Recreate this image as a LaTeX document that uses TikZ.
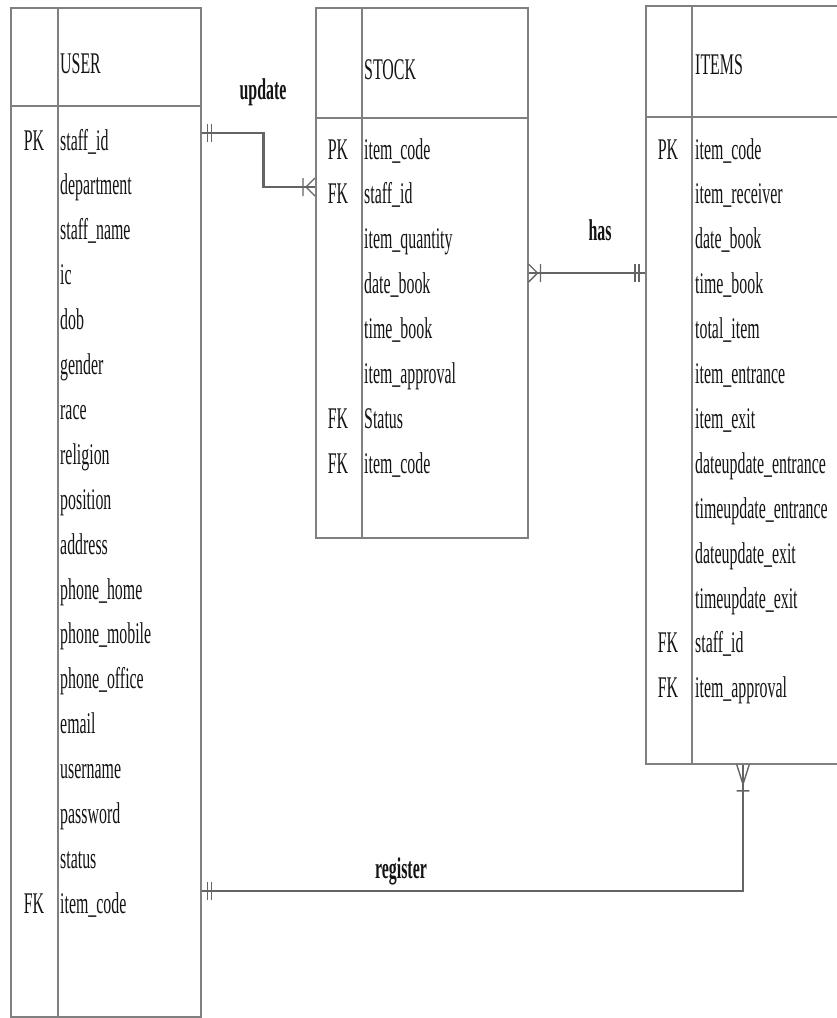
\documentclass[tikz,border=0pt]{standalone}
\usepackage{fontspec}
\setmainfont{Liberation Serif}[FakeStretch=0.53]
\usetikzlibrary{positioning,calc}

\definecolor{boxgray}{RGB}{128,128,128}
\definecolor{linkgray}{RGB}{100,100,100}
\definecolor{inkgray}{RGB}{20,20,20}

\begin{document}
\begin{tikzpicture}[
    x=1pt, y=-1pt,
    table/.style={
        draw=boxgray,
        line width=1.5pt,
        anchor=north west,
        inner sep=0pt
    },
    sep line/.style={draw=boxgray, line width=1.5pt},
    title/.style={
        font=\fontsize{30}{32}\selectfont,
        text=inkgray,
        anchor=base west,
        inner sep=0pt
    },
    attr/.style={
        font=\fontsize{30}{32}\selectfont,
        text=inkgray,
        text width=150pt,
        align=left,
        inner sep=0pt,
        minimum height=44.5pt,
        text height=20pt,
        text depth=6pt
    },
    key/.style={
        font=\fontsize{30}{32}\selectfont,
        text=inkgray,
        inner sep=0pt,
        text height=20pt,
        text depth=6pt
    },
    rel/.style={draw=linkgray, line width=2.8pt},
    tick/.style={draw=linkgray, line width=1.4pt},
    rel label/.style={
        font=\bfseries\fontsize{30}{32}\selectfont,
        text=inkgray,
        anchor=base,
        inner sep=0pt
    },
    one only/.pic={\draw[tick] (6,-9) -- (6,9) (10,-9) -- (10,9);},
    one many/.pic={\draw[tick] (0,-9) -- (9,0) -- (0,9) (12,-9) -- (12,9);}
]
\useasboundingbox (0,0) rectangle (836,1018);

% Tables
\node[table, minimum width=190pt, minimum height=1009pt] (user)  at (10,7)  {};
\node[table, minimum width=212pt, minimum height=530pt]  (stock) at (315,7) {};
\node[table, minimum width=200pt, minimum height=758pt]  (items) at (645,5) {};

% Header and key column lines
\draw[sep line] ($(user.north west)+(0,99)$)   -- ($(user.north east)+(0,99)$);
\draw[sep line] ($(user.north west)+(48,0)$)   -- ($(user.south west)+(48,0)$);
\draw[sep line] ($(stock.north west)+(0,111)$) -- ($(stock.north east)+(0,111)$);
\draw[sep line] ($(stock.north west)+(47,0)$)  -- ($(stock.south west)+(47,0)$);
\draw[sep line] ($(items.north west)+(0,112)$) -- ($(items.north east)+(0,112)$);
\draw[sep line] ($(items.north west)+(47,0)$)  -- ($(items.south west)+(47,0)$);

% Titles
\node[title] (usertitle)  at (60,73)  {USER};
\node[title] (stocktitle) at (364,79) {STOCK};
\node[title] (itemstitle) at (695,74) {ITEMS};

% USER attributes
\node[attr, anchor=west] (u1) at (60,143) {staff\_id};
\node[attr] (u2)  [below=0pt of u1]  {department};
\node[attr] (u3)  [below=0pt of u2]  {staff\_name};
\node[attr] (u4)  [below=0pt of u3]  {ic};
\node[attr] (u5)  [below=0pt of u4]  {dob};
\node[attr] (u6)  [below=0pt of u5]  {gender};
\node[attr] (u7)  [below=0pt of u6]  {race};
\node[attr] (u8)  [below=0pt of u7]  {religion};
\node[attr] (u9)  [below=0pt of u8]  {position};
\node[attr] (u10) [below=0pt of u9]  {address};
\node[attr] (u11) [below=0pt of u10] {phone\_home};
\node[attr] (u12) [below=0pt of u11] {phone\_mobile};
\node[attr] (u13) [below=0pt of u12] {phone\_office};
\node[attr] (u14) [below=0pt of u13] {email};
\node[attr] (u15) [below=0pt of u14] {username};
\node[attr] (u16) [below=0pt of u15] {password};
\node[attr] (u17) [below=0pt of u16] {status};
\node[attr] (u18) [below=0pt of u17] {item\_code};
\node[key] (ku1)  at ($(user.west |- u1)+(24,0)$)  {PK};
\node[key] (ku18) at ($(user.west |- u18)+(24,0)$) {FK};

% STOCK attributes
\node[attr, anchor=west] (s1) at (364,152) {item\_code};
\node[attr] (s2) [below=0pt of s1] {staff\_id};
\node[attr] (s3) [below=0pt of s2] {item\_quantity};
\node[attr] (s4) [below=0pt of s3] {date\_book};
\node[attr] (s5) [below=0pt of s4] {time\_book};
\node[attr] (s6) [below=0pt of s5] {item\_approval};
\node[attr] (s7) [below=0pt of s6] {Status};
\node[attr] (s8) [below=0pt of s7] {item\_code};
\node[key] (ks1) at ($(stock.west |- s1)+(23,0)$) {PK};
\node[key] (ks2) at ($(stock.west |- s2)+(23,0)$) {FK};
\node[key] (ks7) at ($(stock.west |- s7)+(23,0)$) {FK};
\node[key] (ks8) at ($(stock.west |- s8)+(23,0)$) {FK};

% ITEMS attributes
\node[attr, anchor=west] (i1) at (695,152) {item\_code};
\node[attr] (i2)  [below=0pt of i1]  {item\_receiver};
\node[attr] (i3)  [below=0pt of i2]  {date\_book};
\node[attr] (i4)  [below=0pt of i3]  {time\_book};
\node[attr] (i5)  [below=0pt of i4]  {total\_item};
\node[attr] (i6)  [below=0pt of i5]  {item\_entrance};
\node[attr] (i7)  [below=0pt of i6]  {item\_exit};
\node[attr] (i8)  [below=0pt of i7]  {dateupdate\_entrance};
\node[attr] (i9)  [below=0pt of i8]  {timeupdate\_entrance};
\node[attr] (i10) [below=0pt of i9]  {dateupdate\_exit};
\node[attr] (i11) [below=0pt of i10] {timeupdate\_exit};
\node[attr] (i12) [below=0pt of i11] {staff\_id};
\node[attr] (i13) [below=0pt of i12] {item\_approval};
\node[key] (ki1)  at ($(items.west |- i1)+(23,0)$)  {PK};
\node[key] (ki12) at ($(items.west |- i12)+(23,0)$) {FK};
\node[key] (ki13) at ($(items.west |- i13)+(23,0)$) {FK};

% Relationships
\coordinate (updA) at ($(user.north east)+(0,126)$);
\coordinate (updB) at ($(stock.north west)+(0,180)$);
\draw[rel] (updA) -- ++(62,0) |- (updB);
\pic at (updA) {one only};
\pic[rotate=180] at (updB) {one many};
\node[rel label] (updlbl) at (263,99) {update};

\coordinate (hasA) at ($(stock.north east)+(0,266)$);
\coordinate (hasB) at (items.west |- hasA);
\draw[rel] (hasA) -- (hasB);
\pic at (hasA) {one many};
\pic[rotate=180] at (hasB) {one only};
\node[rel label] (haslbl) at (600,240) {has};

\coordinate (regA) at ($(user.north east)+(0,884)$);
\coordinate (regB) at ($(items.south west)+(98,0)$);
\draw[rel] (regA) -| (regB);
\pic at (regA) {one only};
\pic[rotate=-90, xscale=2.2, yscale=0.7] at (regB) {one many};
\node[rel label] (reglbl) at (401,878) {register};

\end{tikzpicture}
\end{document}
